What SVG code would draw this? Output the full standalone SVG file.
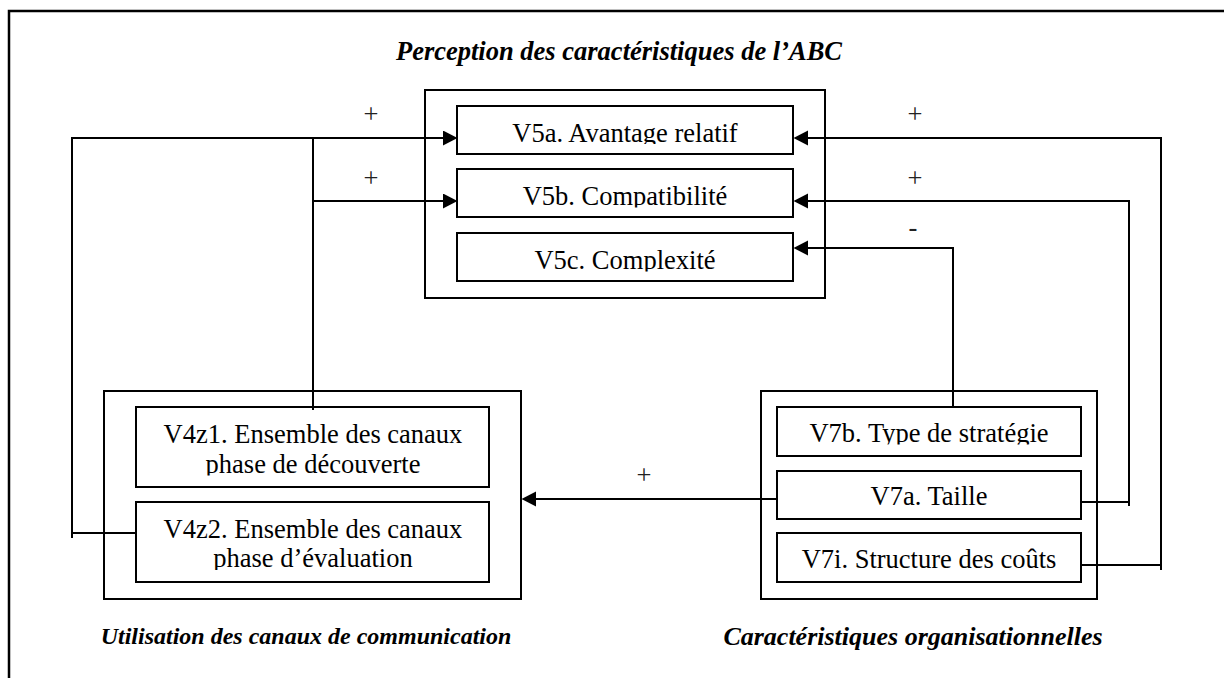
<svg xmlns="http://www.w3.org/2000/svg" width="1224" height="678" viewBox="0 0 1224 678">
<style>
.box{fill:#fff;stroke:#000;stroke-width:2}
.grp{fill:#fff;stroke:#000;stroke-width:2}
.lbl{font-family:"Liberation Serif","Times New Roman",serif;font-size:26.5px;fill:#000;text-anchor:middle}
.ttl{font-family:"Liberation Serif","Times New Roman",serif;font-weight:bold;font-style:italic;fill:#000;text-anchor:middle}
.sign{font-family:"Liberation Serif","Times New Roman",serif;font-size:26.5px;fill:#222;text-anchor:middle}
.con{fill:none;stroke:#000;stroke-width:2}
</style>
<defs>
<marker id="arr" markerUnits="userSpaceOnUse" markerWidth="15" markerHeight="16" refX="7" refY="7.5" orient="auto" viewBox="0 0 15 16">
<path d="M0,0 L14.5,7.5 L0,15 z" fill="#000"/>
</marker>
<clipPath id="cV5a"><rect x="457" y="100" width="336" height="44"/></clipPath>
<clipPath id="cV5b"><rect x="457" y="165" width="336" height="42.5"/></clipPath>
<clipPath id="cV5c"><rect x="457" y="228" width="336" height="43.5"/></clipPath>
<clipPath id="cV4z1"><rect x="136" y="400" width="353" height="75.5"/></clipPath>
<clipPath id="cV4z2"><rect x="136" y="495" width="353" height="75"/></clipPath>
<clipPath id="cV7b"><rect x="777" y="400" width="304" height="44.5"/></clipPath>
</defs>

<path d="M9,678 V11 H1224" fill="none" stroke="#000" stroke-width="2.5"/>

<text class="ttl" x="619" y="60" font-size="26.5">Perception des caractéristiques de l’ABC</text>
<text class="ttl" x="306" y="644" font-size="24">Utilisation des canaux de communication</text>
<text class="ttl" x="913" y="645" font-size="26">Caractéristiques organisationnelles</text>

<g id="grp-perception"><rect class="grp" x="425" y="90" width="400" height="208"/></g>
<g id="grp-utilisation"><rect class="grp" x="104" y="391" width="417" height="208"/></g>
<g id="grp-organisation"><rect class="grp" x="761" y="391" width="336" height="208"/></g>

<g id="V5a"><rect class="box" x="457" y="106" width="336" height="48"/>
<text class="lbl" x="625" y="141.5" clip-path="url(#cV5a)">V5a. Avantage relatif</text></g>
<g id="V5b"><rect class="box" x="457" y="169" width="336" height="48"/>
<text class="lbl" x="625" y="205" clip-path="url(#cV5b)">V5b. Compatibilité</text></g>
<g id="V5c"><rect class="box" x="457" y="233" width="336" height="48"/>
<text class="lbl" x="625" y="269" clip-path="url(#cV5c)">V5c. Complexité</text></g>

<g id="V4z1"><rect class="box" x="136" y="407" width="353" height="80"/>
<text class="lbl" x="313" y="443.3" clip-path="url(#cV4z1)">V4z1. Ensemble des canaux</text>
<text class="lbl" x="313" y="472.7" clip-path="url(#cV4z1)">phase de découverte</text></g>
<g id="V4z2"><rect class="box" x="136" y="502" width="353" height="80"/>
<text class="lbl" x="313" y="537.8" clip-path="url(#cV4z2)">V4z2. Ensemble des canaux</text>
<text class="lbl" x="313" y="567.3" clip-path="url(#cV4z2)">phase d’évaluation</text></g>

<g id="V7b"><rect class="box" x="777" y="407" width="304" height="49"/>
<text class="lbl" x="929" y="441.7" clip-path="url(#cV7b)">V7b. Type de stratégie</text></g>
<g id="V7a"><rect class="box" x="777" y="471" width="304" height="48"/>
<text class="lbl" x="929" y="505">V7a. Taille</text></g>
<g id="V7i"><rect class="box" x="777" y="533" width="304" height="49"/>
<text class="lbl" x="929" y="568.3">V7i. Structure des coûts</text></g>

<g id="connectors">
<path class="con" d="M72,533 H136"/>
<path class="con" d="M72,538 V138 H450" marker-end="url(#arr)"/>
<path class="con" d="M313,410 V138"/>
<path class="con" d="M313,201 H450" marker-end="url(#arr)"/>
<path class="con" d="M953,407 V248 H801" marker-end="url(#arr)"/>
<path class="con" d="M1081,502 H1129"/>
<path class="con" d="M1129,506 V201 H801" marker-end="url(#arr)"/>
<path class="con" d="M1081,565 H1161"/>
<path class="con" d="M1161,570 V138 H801" marker-end="url(#arr)"/>
<path class="con" d="M777,499 H529" marker-end="url(#arr)"/>
<text class="sign" x="371" y="122.7">+</text>
<text class="sign" x="371" y="186.7">+</text>
<text class="sign" x="915" y="122.7">+</text>
<text class="sign" x="915" y="186.7">+</text>
<text class="sign" x="913" y="236">-</text>
<text class="sign" x="644" y="483.7">+</text>
</g>
</svg>
